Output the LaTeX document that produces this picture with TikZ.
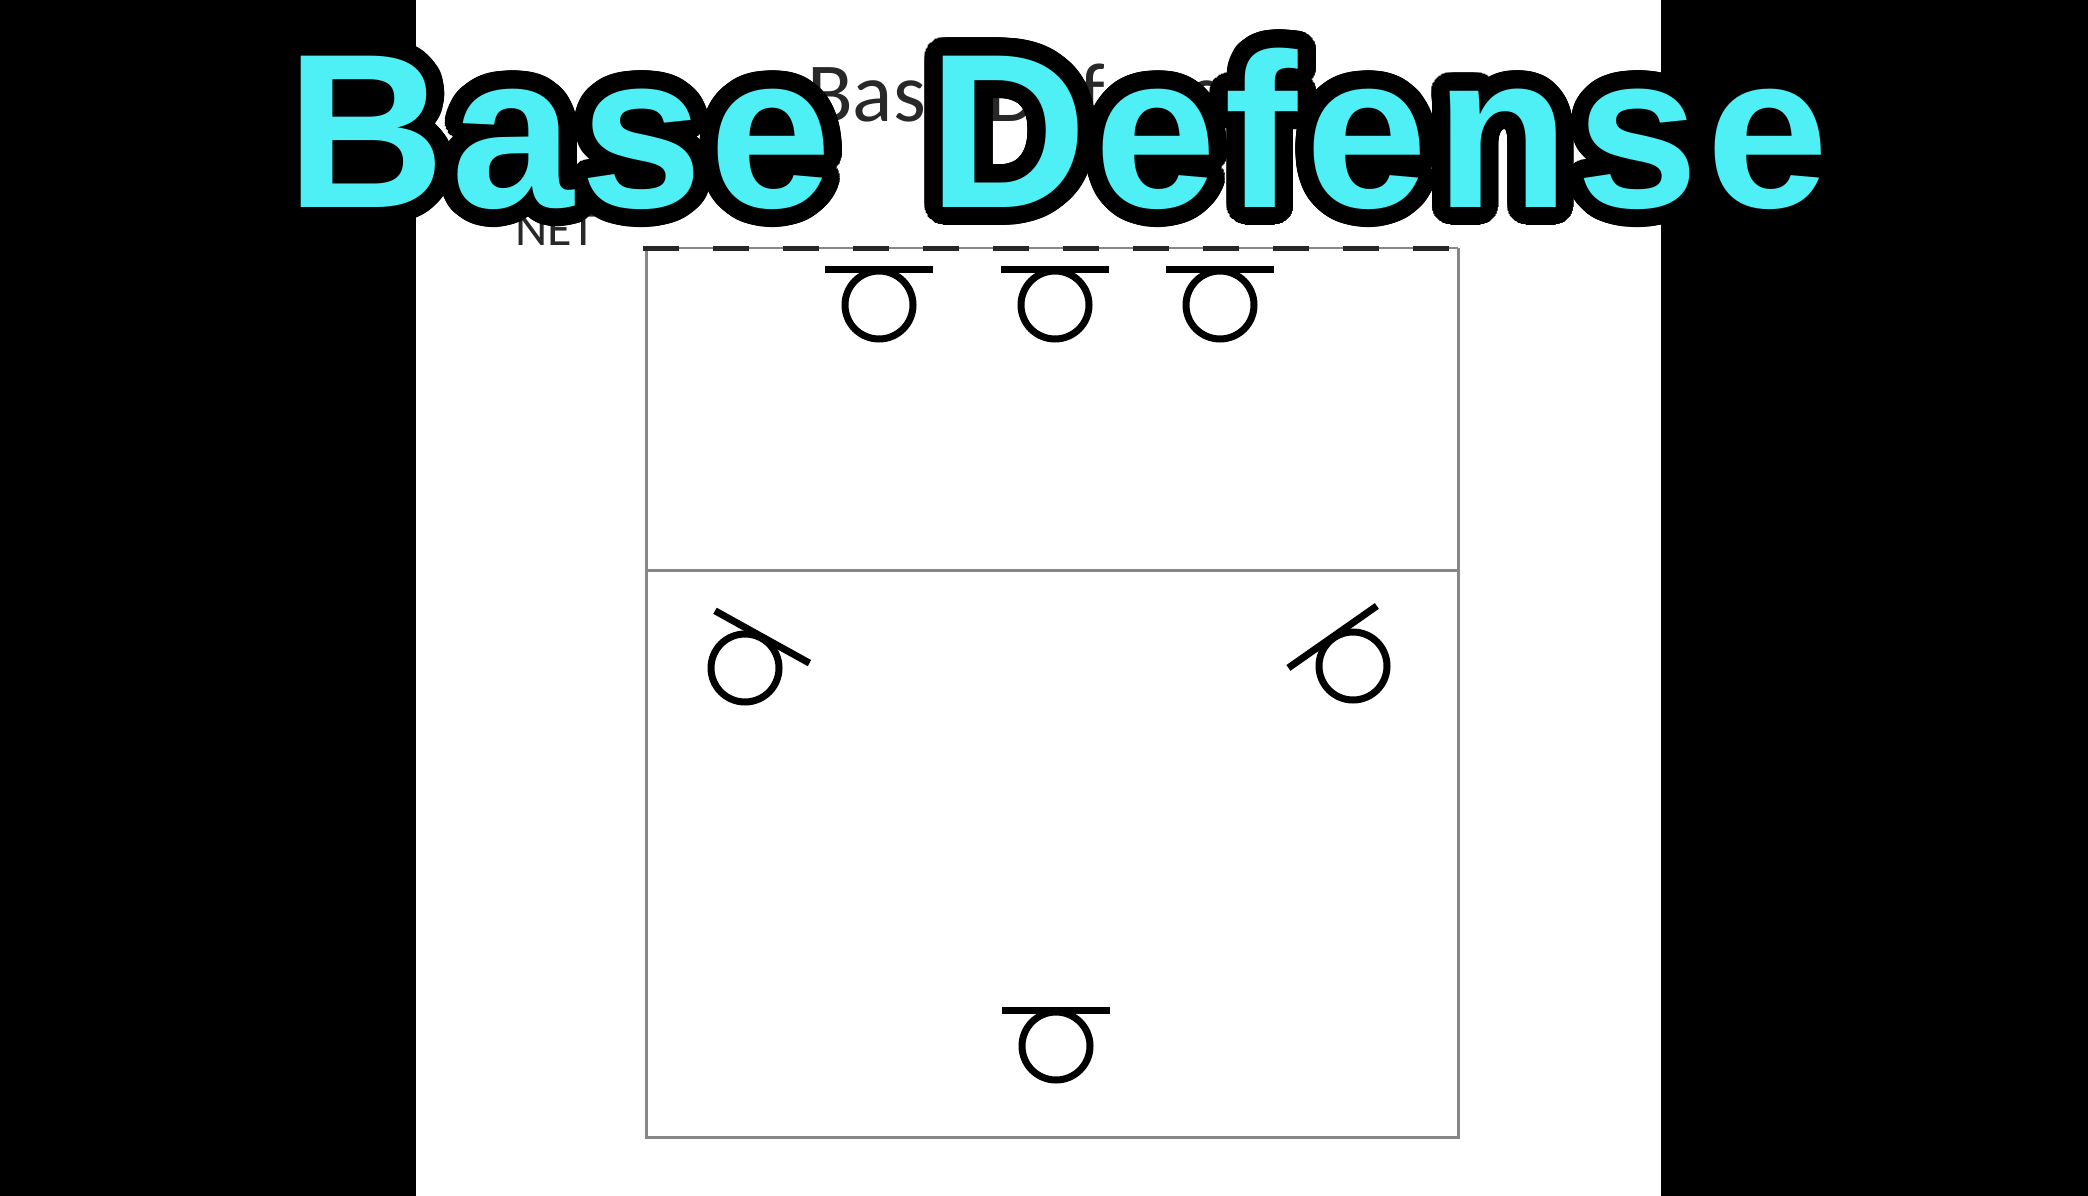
\documentclass[tikz,border=0pt]{standalone}
\usepackage{fontspec}
\newfontfamily\titlefont{Liberation Sans}
\newfontfamily\docfont{Carlito}
\definecolor{titlecyan}{RGB}{78,240,246}
\definecolor{courtgray}{RGB}{135,135,135}
\definecolor{doctext}{RGB}{40,40,40}
\tikzset{
  courtline/.style={draw=courtgray, line width=3pt},
  netline/.style={draw=black!85, line width=5pt, dash pattern=on 36pt off 34pt},
  playercircle/.style={draw=black, line width=7pt},
  playerbar/.style={draw=black, line width=7pt, line cap=butt},
  titletext/.style={anchor=base west, inner sep=0pt, font=\titlefont\bfseries\fontsize{220}{240}\selectfont},
  pics/player/.style={code={
    \draw[playercircle] (0,0) circle[radius=34pt];
    \draw[playerbar] (#1:35.5) ++(#1+90:54) -- ++(#1-90:108);
  }}
}
\newcommand\lsp{\kern6.6pt}
\newcommand\lspd{\kern7.4pt}
\newcommand\titlestr{B\lsp a\lsp s\lsp e\hspace{97pt}D\lspd e\lspd f\lspd e\lspd n\lspd s\lspd e}
\begin{document}
\begin{tikzpicture}[x=1pt,y=-1pt]
\useasboundingbox (0,0) rectangle (2088,1196);
\fill[white] (0,0) rectangle (2088,1196);
\fill[black] (0,0) rectangle (415.5,1196);
\fill[black] (1660.5,0) rectangle (2088,1196);
% court
\draw[courtline] (646,248) -- (646,1137) -- (1458,1137) -- (1458,248);
\draw[courtline] (646,570) -- (1458,570);
\draw[draw=courtgray, line width=2pt] (643,248) -- (1458,248);
\draw[netline] (643,248) -- (1458,248);
% labels beneath
\node[anchor=base west, inner sep=0pt, text=doctext, font=\docfont\fontsize{50}{55}\selectfont] (net) at (515,245) {NET};
\node[anchor=base west, inner sep=0pt, text=doctext, font=\docfont\fontsize{84}{90}\selectfont] (doctitle) at (807,122) {Base Defense};
% players
\pic (p1) at (879,305) {player=-90};
\pic (p2) at (1055,305) {player=-90};
\pic (p3) at (1220,305) {player=-90};
\pic (lb) at (745,668) {player=-61};
\pic (rb) at (1353,666) {player=-125};
\pic (bk) at (1056,1046) {player=-90};
% overlay title: black outline made of shifted copies, cyan fill on top
\foreach \a in {0,5,...,355} {
  \node[titletext, text=black, xshift={18*cos(\a)}, yshift={18*sin(\a)}] (tout\a) at (286,207) {\titlestr};
}
\foreach \a in {0,10,...,350} {
  \node[titletext, text=black, xshift={11*cos(\a)}, yshift={11*sin(\a)}] (tin\a) at (286,207) {\titlestr};
}
\node[titletext, text=titlecyan] (title) at (286,207) {\titlestr};
\end{tikzpicture}
\end{document}
